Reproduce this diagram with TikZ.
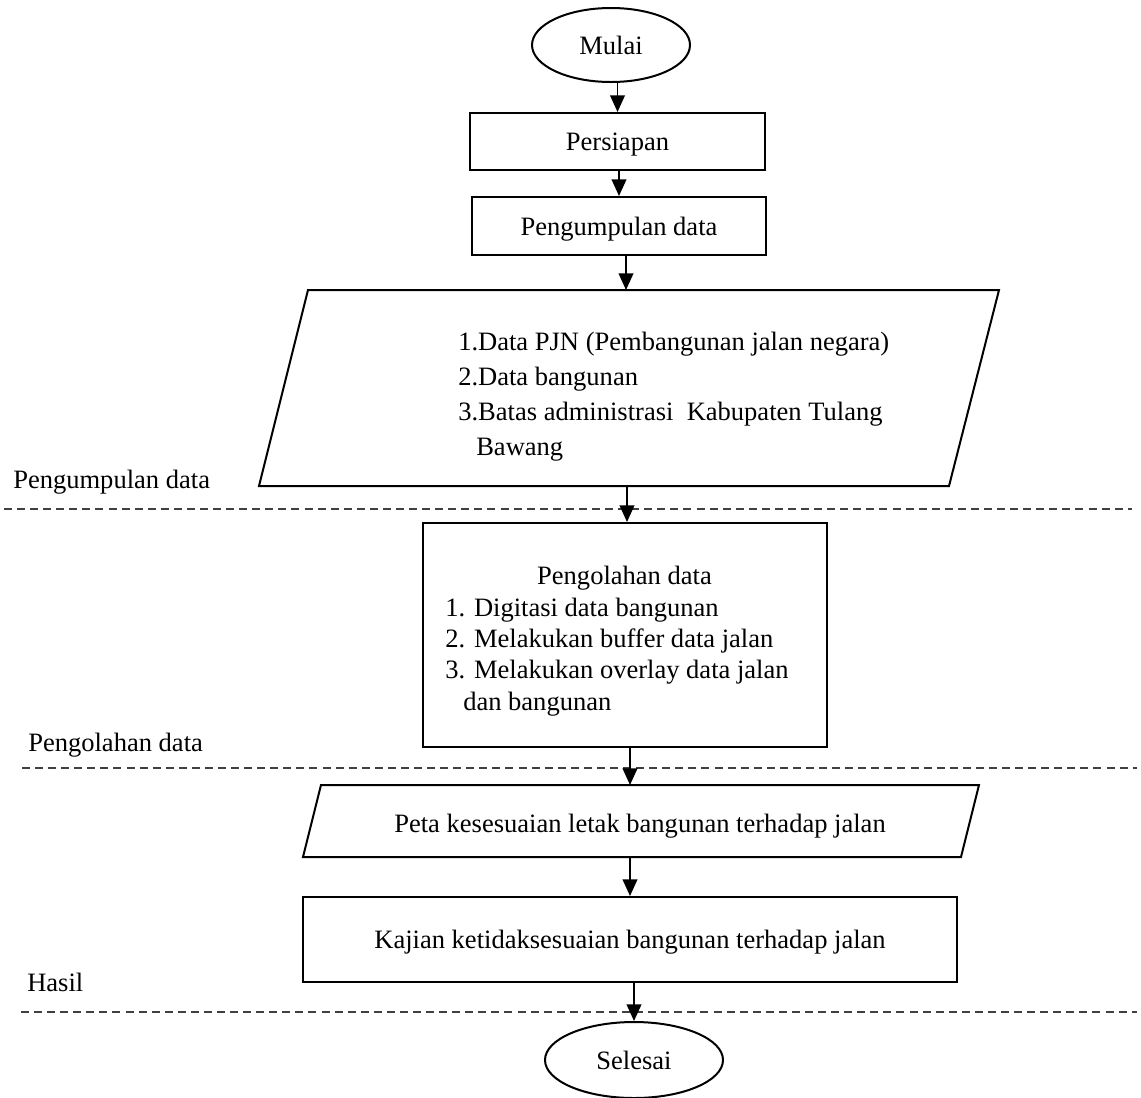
\documentclass[tikz,border=0pt]{standalone}
\usepackage{fontspec}
\setmainfont{Liberation Serif}
\usetikzlibrary{arrows.meta,shapes.geometric}
\begin{document}
\begin{tikzpicture}[x=0.75pt,y=-0.75pt,
  every node/.style={font=\fontsize{19.9pt}{26pt}\selectfont, inner sep=0pt, text depth=0pt},
  shapeline/.style={draw, line width=1.5pt},
  procbox/.style={shapeline, rectangle},
  termin/.style={shapeline, ellipse},
  flowarrow/.style={line width=1.4pt, -{Triangle[length=12.5pt,width=11pt]}},
  sepline/.style={dashed, dash pattern=on 6pt off 3.8pt, line width=0.8pt, draw=black!75},
  lanelabel/.style={anchor=west}]
\useasboundingbox (0,0) rectangle (1141,1097);

% separators
\draw[sepline] (4,509) -- (1132,509);
\draw[sepline] (22,768) -- (1137,768);
\draw[sepline] (21,1012) -- (1137,1012);

% lane labels
\node[lanelabel] (lab1) at (13,479) {Pengumpulan data};
\node[lanelabel] (lab2) at (28,742) {Pengolahan data};
\node[lanelabel] (lab3) at (27,982) {Hasil};

% terminals and boxes
\node[termin, minimum width=118.5pt, minimum height=55.5pt] (mulai) at (611,45) {Mulai};
\node[procbox, minimum width=221.25pt, minimum height=42.75pt] (persiapan) at (617.5,141.5) {Persiapan};
\node[procbox, minimum width=220.5pt, minimum height=43.5pt] (kumpul) at (619,226) {Pengumpulan data};

% input parallelogram 1
\draw[shapeline] (308,290) -- (999,290) -- (949,486) -- (259,486) -- cycle;
\coordinate (p1in) at (626,290);
\coordinate (p1out) at (627,486);
\node[anchor=west, align=left, font=\fontsize{19.9pt}{26.25pt}\selectfont] (datalist) at (458,394)
  {1.Data PJN (Pembangunan jalan negara)\\
   2.Data bangunan\\
   3.Batas administrasi~ Kabupaten Tulang\\
   \hspace*{13.5pt}Bawang};

% processing box
\node[procbox, minimum width=303pt, minimum height=168pt] (olah) at (625,635) {};
\node (olahtitle) at (624.5,575) {Pengolahan data};
\node[anchor=west, align=left, font=\fontsize{19.9pt}{23.4pt}\selectfont] (olahlist) at (445,654)
  {1. Digitasi data bangunan\\
   2. Melakukan buffer data jalan\\
   3. Melakukan overlay data jalan\\
   \hspace*{13.5pt}dan bangunan};

% output parallelogram 2
\draw[shapeline] (321,785) -- (979,785) -- (961,857) -- (303,857) -- cycle;
\coordinate (p2in) at (630,785);
\coordinate (p2out) at (630,857);
\node (peta) at (640,823) {Peta kesesuaian letak bangunan terhadap jalan};

% study box and end
\node[procbox, minimum width=490.5pt, minimum height=63.75pt] (kajian) at (630,939.5) {Kajian ketidaksesuaian bangunan terhadap jalan};
\node[termin, minimum width=133.5pt, minimum height=57pt] (selesai) at (634,1060) {Selesai};

% connectors
\draw[flowarrow] (persiapan.north |- mulai.south) -- (persiapan.north);
\draw[flowarrow] (kumpul.north |- persiapan.south) -- (kumpul.north);
\draw[flowarrow] (kumpul.south -| p1in) -- (p1in);
\draw[flowarrow] (p1out) -- (p1out |- olah.north);
\draw[flowarrow] (olah.south -| p2in) -- (p2in);
\draw[flowarrow] (p2out) -- (p2out |- kajian.north);
\draw[flowarrow] (kajian.south -| selesai.north) -- (selesai.north);
\end{tikzpicture}
\end{document}
